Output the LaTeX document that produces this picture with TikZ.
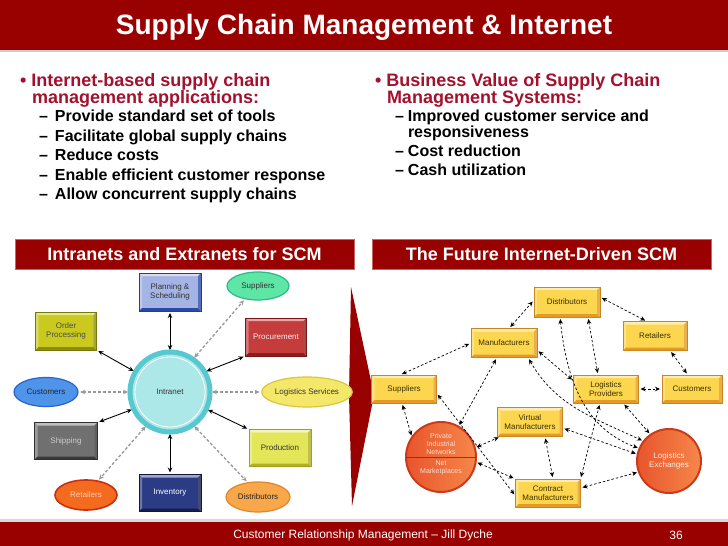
\documentclass[tikz,border=0pt]{standalone}
\usepackage{fontspec}
\setmainfont{Liberation Sans}
\usetikzlibrary{arrows.meta,shapes.geometric,calc}
\definecolor{hdr}{HTML}{990000}
\definecolor{headred}{HTML}{A3112E}
\definecolor{ylw}{HTML}{FCD64E}
\definecolor{ylwd}{HTML}{E49A24}
\definecolor{ylwb}{HTML}{C8861C}
\definecolor{ytext}{HTML}{3A3000}
\definecolor{o1}{HTML}{E8552C}
\definecolor{o2}{HTML}{F6874A}
\definecolor{o3}{HTML}{CC3A1A}
\definecolor{cyf}{HTML}{ADE8E8}
\definecolor{cyd}{HTML}{58C8D0}
\definecolor{planf}{HTML}{A4B4E4}\definecolor{pland}{HTML}{2A4AA8}\definecolor{planb}{HTML}{283C90}
\definecolor{ordf}{HTML}{C9C91E}\definecolor{ordd}{HTML}{8C8C10}\definecolor{ordb}{HTML}{78780A}
\definecolor{prof}{HTML}{C43C3C}\definecolor{prod}{HTML}{8C1E1E}\definecolor{prob}{HTML}{781414}
\definecolor{shif}{HTML}{707070}\definecolor{shid}{HTML}{383838}\definecolor{shib}{HTML}{303030}
\definecolor{pduf}{HTML}{E4E65A}\definecolor{pdud}{HTML}{B0B020}\definecolor{pdub}{HTML}{A0A01E}
\definecolor{invf}{HTML}{2C3C84}\definecolor{invd}{HTML}{141E50}\definecolor{invb}{HTML}{101840}
\definecolor{supf}{HTML}{5EE6A6}\definecolor{supd}{HTML}{2EB884}
\definecolor{cusf}{HTML}{4E94EA}\definecolor{cusd}{HTML}{2A64C8}
\definecolor{logf}{HTML}{F4E86A}\definecolor{logd}{HTML}{DCC440}
\definecolor{retf}{HTML}{F46A1E}\definecolor{retd}{HTML}{C8300E}\definecolor{rett}{HTML}{FAD0B0}
\definecolor{disf}{HTML}{F8A84A}\definecolor{disd}{HTML}{E0862A}
\begin{document}
\begin{tikzpicture}[x=1pt,y=-1pt,>={Stealth[length=5pt,width=4.5pt]}]
\tikzset{
 every node/.style={inner sep=0pt,outer sep=0pt},
 lab/.style={font=\fontsize{8}{9}\selectfont,align=center},
 bev/.style n args={3}{rectangle,fill=#1,draw=#3,line width=0.5pt,lab,
  path picture={
   \fill[#1!45!white] (path picture bounding box.north west) -- (path picture bounding box.north east) -- ([xshift=-3pt,yshift=-3pt]path picture bounding box.north east) -- ([xshift=3pt,yshift=-3pt]path picture bounding box.north west) -- cycle;
   \fill[#1!70!white] (path picture bounding box.north west) -- ([xshift=3pt,yshift=-3pt]path picture bounding box.north west) -- ([xshift=3pt,yshift=3pt]path picture bounding box.south west) -- (path picture bounding box.south west) -- cycle;
   \fill[#2] (path picture bounding box.south west) -- (path picture bounding box.south east) -- ([xshift=-3pt,yshift=3pt]path picture bounding box.south east) -- ([xshift=3pt,yshift=3pt]path picture bounding box.south west) -- cycle;
   \fill[#2!80!white] (path picture bounding box.north east) -- (path picture bounding box.south east) -- ([xshift=-3pt,yshift=3pt]path picture bounding box.south east) -- ([xshift=-3pt,yshift=-3pt]path picture bounding box.north east) -- cycle;
  }},
 ybox/.style={bev={ylw}{ylwd}{ylwb},text=ytext,minimum height=28pt},
 ell/.style n args={2}{ellipse,fill=#1,draw=#2,line width=1.2pt,lab},
 sol/.style={<->,black,line width=0.9pt,shorten >=2pt,shorten <=2pt},
 dg/.style={<->,black!40,line width=1.3pt,dash pattern=on 3pt off 2pt,shorten >=2pt,shorten <=2pt},
 dk/.style={<->,black,line width=0.7pt,dash pattern=on 2.5pt off 2pt,shorten >=2pt,shorten <=2pt},
 orb/.style={circle,left color=o1,right color=o2,draw=o3,line width=2pt,lab,text=white!85!o2},
 hd/.style={anchor=base west,font=\bfseries\fontsize{18}{20}\selectfont},
 sub/.style={anchor=base west,font=\bfseries\fontsize{16}{18}\selectfont},
}
\useasboundingbox (0,0) rectangle (728,546);
\fill[white] (0,0) rectangle (728,546);
% header
\fill[hdr] (0,0) rectangle (728,50);
\fill[black!20] (0,50) rectangle (728,52);
\node[font=\bfseries\fontsize{28}{30}\selectfont,text=white] (title) at (364,27) {Supply Chain Management \& Internet};
% left bullets
\node[hd,text=headred] (h1) at (20,86) {\textbullet\hspace{5pt}Internet-based supply chain};
\node[hd,text=headred] (h2) at (32,103) {management applications:};
\node[sub] (l1) at (39,121) {\makebox[16pt][l]{–}Provide standard set of tools};
\node[sub] (l2) at (39,141) {\makebox[16pt][l]{–}Facilitate global supply chains};
\node[sub] (l3) at (39,160) {\makebox[16pt][l]{–}Reduce costs};
\node[sub] (l4) at (39,180) {\makebox[16pt][l]{–}Enable efficient customer response};
\node[sub] (l5) at (39,199) {\makebox[16pt][l]{–}Allow concurrent supply chains};
% right bullets
\node[hd,text=headred] (h3) at (375,86) {\textbullet\hspace{5pt}Business Value of Supply Chain};
\node[hd,text=headred] (h4) at (387,103) {Management Systems:};
\node[sub] (r1) at (395,121) {\makebox[13pt][l]{–}Improved customer service and};
\node[sub] (r2) at (408,137) {responsiveness};
\node[sub] (r3) at (395,156) {\makebox[13pt][l]{–}Cost reduction};
\node[sub] (r4) at (395,175) {\makebox[13pt][l]{–}Cash utilization};
% section bars
\node[fill=hdr,draw=hdr!60!white,line width=0.5pt,minimum width=339pt,minimum height=30pt,text=white,font=\bfseries\fontsize{18}{20}\selectfont] (bar1) at (184.5,254) {Intranets and Extranets for SCM};
\node[fill=hdr,draw=hdr!60!white,line width=0.5pt,minimum width=339pt,minimum height=30pt,text=white,font=\bfseries\fontsize{18}{20}\selectfont] (bar2) at (541.5,254) {The Future Internet-Driven SCM};
% chevron
\fill[hdr] (351,287) -- (374,395) -- (352,506) -- (349,395) -- cycle;
% footer
\fill[black!15] (0,519) rectangle (728,522);
\fill[hdr] (0,522) rectangle (728,546);
\node[text=white,font=\fontsize{12}{14}\selectfont] (foot) at (363,535) {Customer Relationship Management – Jill Dyche};
\node[text=white,font=\fontsize{12}{14}\selectfont] (page) at (676,535) {36};
% ---------- left diagram ----------
\node[circle,fill=cyf,draw=cyd,line width=5pt,minimum size=80pt,lab,text=black!80] (intr) at (170,392) {Intranet};
\draw[white,line width=0.8pt] (intr.center) circle (35);
\node[bev={planf}{pland}{planb},minimum width=62pt,minimum height=38pt,text=black!80] (plan) at (170,292) {Planning \&\\Scheduling};
\node[ell={supf}{supd},minimum width=62pt,minimum height=28pt,text=black!80] (supl) at (258,286) {Suppliers};
\node[bev={ordf}{ordd}{ordb},minimum width=61pt,minimum height=38pt,text=black!70] (order) at (66,331) {Order\\Processing};
\node[bev={prof}{prod}{prob},minimum width=61pt,minimum height=38pt,text=white!92!red] (proc) at (276,337) {Procurement};
\node[ell={cusf}{cusd},minimum width=64pt,minimum height=29pt,text=black!85] (cust) at (46,392) {Customers};
\node[ell={logf}{logd},minimum width=76pt,minimum height=30pt,text=black!80] (logs) at (307,392) {Logistics Services};
\node[bev={shif}{shid}{shib},minimum width=63pt,minimum height=37pt,text=black!20] (ship) at (66,441) {Shipping};
\node[bev={pduf}{pdud}{pdub},minimum width=62pt,minimum height=37pt,text=black!80] (prodn) at (280,448) {Production};
\node[ell={retf}{retd},minimum width=62pt,minimum height=30pt,text=rett,line width=1.6pt] (ret) at (86,495) {Retailers};
\node[bev={invf}{invd}{invb},minimum width=62pt,minimum height=37pt,text=white] (inv) at (170,493) {Inventory};
\node[ell={disf}{disd},minimum width=64pt,minimum height=30pt,text=black!85] (dist) at (258,497) {Distributors};
\draw[sol] (plan.south) -- (intr.north);
\draw[dg] (intr.55) -- (supl.225);
\draw[sol] (order.south east) -- (intr.150);
\draw[sol] (intr.30) -- (proc.south west);
\draw[dg] (cust.east) -- (intr.west);
\draw[dg] (intr.east) -- (logs.west);
\draw[sol] (ship.north east) -- (intr.205);
\draw[sol] (intr.-25) -- (prodn.north west);
\draw[dg] (intr.235) -- (ret.50);
\draw[sol] (intr.south) -- (inv.north);
\draw[dg] (intr.-55) -- (dist.125);
% ---------- right diagram ----------
\node[ybox,minimum width=66pt,minimum height=30pt] (rdist) at (567,302) {Distributors};
\node[ybox,minimum width=66pt,minimum height=29pt] (rman) at (504,343) {Manufacturers};
\node[ybox,minimum width=64pt,minimum height=29pt] (rret) at (655,336) {Retailers};
\node[ybox,minimum width=65pt] (rsup) at (404,389) {Suppliers};
\node[ybox,minimum width=65pt] (rlp) at (606,389) {Logistics\\Providers};
\node[ybox,minimum width=60pt] (rcus) at (692,389) {Customers};
\node[ybox,minimum width=65pt,minimum height=29pt] (rvm) at (530,422) {Virtual\\Manufacturers};
\node[ybox,minimum width=65pt] (rcm) at (548,493) {Contract\\Manufacturers};
\node[orb,minimum size=70pt] (pin) at (441,457) {};
\draw[o3!80!black,line width=0.7pt] (pin.west) -- (pin.east);
\node[lab,text=white!80!o1,font=\fontsize{7}{8}\selectfont] (pinu) at (441,444) {Private\\Industrial\\Networks};
\node[lab,text=white!80!o1,font=\fontsize{7}{8}\selectfont] (pinl) at (441,468) {Net\\Marketplaces};
\node[orb,minimum size=64pt] (lex) at (669,461) {Logistics\\Exchanges};
\draw[dk] ([xshift=5pt]rman.north) -- ([yshift=2pt]rdist.west);
\draw[dk] ([yshift=5pt]rdist.east) -- ([xshift=-8pt]rret.north);
\draw[dk] ([xshift=-4pt]rsup.north) -- (rman.west);
\draw[dk] ([xshift=21pt]rdist.south) -- ([xshift=-8pt]rlp.north);
\draw[dk] ([xshift=-7pt]rdist.south) to[out=-84,in=160] (lex.157);
\draw[dk] ([xshift=15pt]rret.south) -- ([xshift=-4pt]rcus.north);
\draw[dk] (rlp.east) -- (rcus.west);
\draw[dk] ([xshift=-2pt]rsup.south) -- (pin.146);
\draw[dk] ([xshift=-7pt]rman.south) -- (pin.60);
\draw[dk] ([yshift=-4pt]rsup.east) -- ([yshift=-3pt]rcm.west);
\draw[dk] (pin.-8) -- (rcm.north west);
\draw[dk] (pin.15) -- ([xshift=3pt]rvm.south west);
\draw[dk] ([xshift=15pt]rvm.south) -- ([xshift=5pt]rcm.north);
\draw[dk] ([yshift=-6pt]rvm.east) -- (lex.168);
\draw[dk] ([yshift=5pt]rcm.east) -- (lex.200);
\draw[dk] (rcm.north east) -- ([xshift=-6pt]rlp.south);
\draw[dk] ([xshift=17pt]rlp.south) -- (lex.125);
\draw[dk] ([yshift=-7pt]rman.east) -- ([yshift=-6pt]rlp.north west);
\draw[dk] ([xshift=24pt]rman.south) to[out=-60,in=155] (lex.142);
\end{tikzpicture}
\end{document}
